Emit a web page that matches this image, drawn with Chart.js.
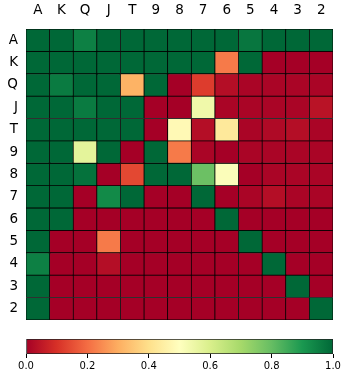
<!DOCTYPE html>
<html>
<head>
<meta charset="utf-8">
<script src="https://cdn.jsdelivr.net/npm/chart.js@4"></script>
<style>
  html, body { margin: 0; padding: 0; background: #fff; }
  #wrap { position: relative; width: 349px; height: 381px; }
  #heat { position: absolute; left: 0; top: 0; }
  #cbar { position: absolute; left: 0; top: 336px; }
</style>
</head>
<body>
<div id="wrap">
  <canvas id="heat" width="349" height="336"></canvas>
  <canvas id="cbar" width="349" height="45"></canvas>
</div>
<script>
// rangos (filas y columnas)
const ranks = ["A", "K", "Q", "J", "T", "9", "8", "7", "6", "5", "4", "3", "2"];

// un valor por celda, 0 = rojo, 1 = verde
const rowA = [1, 1, 0.95, 1, 1, 1, 1, 1, 1, 0.97, 1, 1, 1];
const rowK = [1, 1, 1, 1, 1, 1, 1, 1, 0.22, 1, 0, 0, 0];
const rowQ = [1, 0.96, 1, 1, 0.31, 1, 0, 0.12, 0.03, 0.01, 0.01, 0.01, 0.01];
const rowJ = [1, 1, 0.96, 1, 1, 0, 0, 0.54, 0.01, 0.01, 0.01, 0.01, 0.04];
const rowT = [1, 1, 1, 1, 1, 0, 0.48, 0.03, 0.43, 0.01, 0.02, 0.03, 0.01];
const row9 = [1, 1, 0.57, 1, 0, 1, 0.22, 0.01, 0, 0.01, 0.01, 0.01, 0.01];
const row8 = [1, 1, 0.98, 0, 0.14, 1, 1, 0.79, 0.51, 0, 0.01, 0.01, 0.01];
const row7 = [1, 1, 0, 0.93, 1, 0, 0, 1, 0, 0.01, 0.03, 0.01, 0.01];
const row6 = [1, 1, 0, 0, 0, 0, 0, 0, 1, 0, 0, 0, 0];
const row5 = [1, 0, 0, 0.22, 0, 0, 0, 0, 0, 1, 0, 0, 0];
const row4 = [0.95, 0, 0, 0.03, 0, 0, 0, 0, 0, 0, 1, 0, 0];
const row3 = [1, 0, 0, 0, 0, 0, 0, 0, 0, 0, 0, 1, 0];
const row2 = [1, 0, 0, 0, 0, 0, 0, 0, 0, 0, 0, 0, 1];
const values = [rowA, rowK, rowQ, rowJ, rowT, row9, row8, row7, row6, row5, row4, row3, row2];

// ticks de la barra de color
const cbarTicks = [0, 0.2, 0.4, 0.6, 0.8, 1.0];

// RdYlGn
const CMAP = ["#a50026", "#d73027", "#f46d43", "#fdae61", "#fee08b", "#ffffbf",
              "#d9ef8b", "#a6d96a", "#66bd63", "#1a9850", "#006837"];

function hexToRgb(h) {
  return [1, 3, 5].map(i => parseInt(h.substr(i, 2), 16));
}

function colorFor(v) {
  v = Math.min(1, Math.max(0, v));
  const pos = v * (CMAP.length - 1);
  const i = Math.min(Math.floor(pos), CMAP.length - 2);
  const t = pos - i;
  const a = hexToRgb(CMAP[i]);
  const b = hexToRgb(CMAP[i + 1]);
  const c = a.map((x, k) => Math.round(x + (b[k] - x) * t));
  return `rgb(${c[0]},${c[1]},${c[2]})`;
}

const FONT = "'DejaVu Sans', sans-serif";

new Chart(document.getElementById("heat"), {
  type: "bar",
  data: {
    labels: ranks,
    datasets: values.map((row, i) => ({
      data: row.map(() => [i, i + 1]),
      backgroundColor: row.map(colorFor),
      borderColor: "#000",
      borderWidth: 0.75,
      borderSkipped: false,
      barPercentage: 1,
      categoryPercentage: 1,
      grouped: false,
    })),
  },
  options: {
    responsive: false,
    animation: false,
    layout: { padding: { right: 16, bottom: 1 } },
    plugins: { legend: { display: false }, tooltip: { enabled: false } },
    scales: {
      x: {
        position: "top",
        grid: { display: false, drawTicks: false },
        border: { display: false },
        ticks: { color: "#000", font: { family: FONT, size: 13.5 }, padding: 10, maxRotation: 0 },
        afterFit: s => { s.height = 29; },
      },
      y: {
        min: 0,
        max: 13,
        reverse: true,
        grid: { display: false, drawTicks: false },
        border: { display: false },
        afterBuildTicks: axis => {
          axis.ticks = ranks.map((_, i) => ({ value: i + 0.5 }));
        },
        ticks: {
          color: "#000",
          font: { family: FONT, size: 13.5 },
          padding: 8,
          callback: (v, i) => ranks[i],
        },
        afterFit: s => { s.width = 26; },
      },
    },
  },
});

new Chart(document.getElementById("cbar"), {
  type: "bar",
  data: {
    labels: [""],
    datasets: [{
      data: [[0, 1]],
      backgroundColor: ctx => {
        const area = ctx.chart.chartArea;
        if (!area) return null;
        const g = ctx.chart.ctx.createLinearGradient(area.left, 0, area.right, 0);
        CMAP.forEach((c, i) => g.addColorStop(i / (CMAP.length - 1), c));
        return g;
      },
      borderColor: "#222",
      borderWidth: 1,
      borderSkipped: false,
      barPercentage: 1,
      categoryPercentage: 1,
    }],
  },
  options: {
    indexAxis: "y",
    responsive: false,
    animation: false,
    layout: { padding: { top: 3, left: 26, right: 16 } },
    plugins: { legend: { display: false }, tooltip: { enabled: false } },
    scales: {
      y: { display: false },
      x: {
        min: 0,
        max: 1,
        grid: { drawOnChartArea: false, drawTicks: true, tickLength: 4, color: "#000" },
        border: { display: false },
        afterBuildTicks: axis => {
          axis.ticks = cbarTicks.map(v => ({ value: v }));
        },
        ticks: {
          color: "#000",
          font: { family: FONT, size: 10 },
          padding: 2,
          callback: v => Number(v).toFixed(1),
        },
        afterFit: s => { s.height = 27; },
      },
    },
  },
});
</script>
</body>
</html>
